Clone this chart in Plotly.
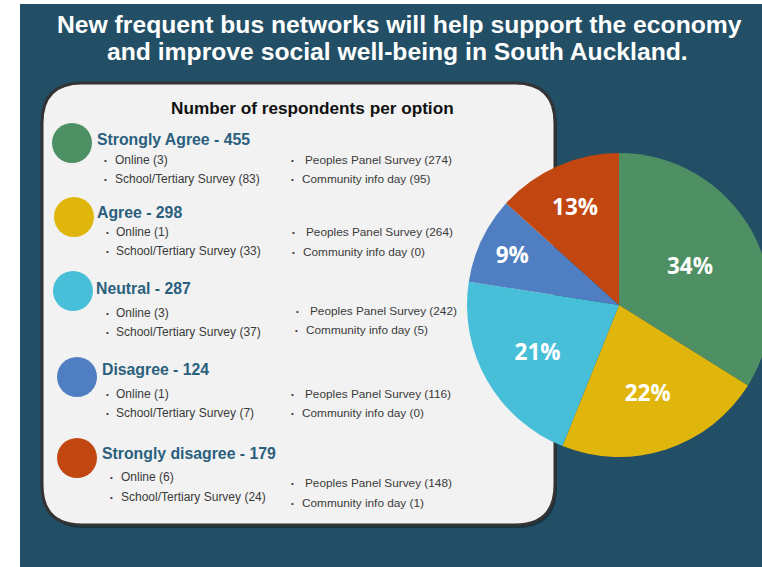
import plotly.graph_objects as go

# ---------------- data ----------------
categories = ["Strongly Agree", "Agree", "Neutral", "Disagree", "Strongly disagree"]
totals = [455, 298, 287, 124, 179]
online = [3, 1, 3, 1, 6]
school = [83, 33, 37, 7, 24]
peoples_panel = [274, 264, 242, 116, 148]
community_day = [95, 0, 5, 0, 1]
colors = ["#4e8f64", "#e0b60c", "#48bfd8", "#4f7fc2", "#c1460f"]

title_lines = ["New frequent bus networks will help support the economy",
               "and improve social well-being in South Auckland."]
panel_title = "Number of respondents per option"

# ---------------- layout helpers ----------------
# figure is a little wider than the window; the overflow (the pie's cut-off
# right edge) is clipped by the page, as in the reference
W, H = 772, 567

def px(x):
    return x / W

def py(y):
    return 1 - y / H

BG = "#224f66"
HEAD = "#2a5f7e"
TXT = "#3a3a3a"

fig = go.Figure()

fig.add_trace(go.Pie(
    labels=categories,
    values=totals,
    sort=False,
    direction="clockwise",
    rotation=0,
    marker=dict(colors=colors, line=dict(width=0)),
    textinfo="percent",
    texttemplate="%{percent:.0%}",
    textposition="inside",
    insidetextorientation="horizontal",
    textfont=dict(family="Open Sans", size=22.5, color="white", weight="bold"),
    showlegend=False,
    hoverinfo="label+value+percent",
    domain=dict(x=[px(467), px(771)], y=[py(457), py(153)]),
))

shapes = []
# white strip on the left / top, dark background elsewhere
shapes.append(dict(type="rect", xref="paper", yref="paper", layer="below",
                   x0=px(20), x1=1.0, y0=0, y1=py(4),
                   fillcolor=BG, line=dict(width=0)))

# rounded panel
def rounded(x0, y0, x1, y1, r):
    pts = [
        f"M {px(x0 + r)},{py(y0)}",
        f"L {px(x1 - r)},{py(y0)}",
        f"Q {px(x1)},{py(y0)} {px(x1)},{py(y0 + r)}",
        f"L {px(x1)},{py(y1 - r)}",
        f"Q {px(x1)},{py(y1)} {px(x1 - r)},{py(y1)}",
        f"L {px(x0 + r)},{py(y1)}",
        f"Q {px(x0)},{py(y1)} {px(x0)},{py(y1 - r)}",
        f"L {px(x0)},{py(y0 + r)}",
        f"Q {px(x0)},{py(y0)} {px(x0 + r)},{py(y0)}",
        "Z",
    ]
    return " ".join(pts)

# shadow
shapes.append(dict(type="path", xref="paper", yref="paper", layer="below",
                   path=rounded(44, 86, 557, 528, 40),
                   fillcolor="rgba(0,0,0,0.35)", line=dict(width=0)))
shapes.append(dict(type="path", xref="paper", yref="paper", layer="below",
                   path=rounded(42, 83, 555, 525, 40),
                   fillcolor="#f2f2f2", line=dict(color="#333333", width=3)))

# category circles
circle_pos = [(72, 143), (74, 217), (73, 291), (77, 377), (77, 458)]
for (cx, cy), col in zip(circle_pos, colors):
    shapes.append(dict(type="circle", xref="paper", yref="paper", layer="below",
                       x0=px(cx - 20), x1=px(cx + 20), y0=py(cy + 20), y1=py(cy - 20),
                       fillcolor=col, line=dict(width=0)))

annotations = []
def text(x, y, s, size, color, bold=False, anchor="left", family="Liberation Sans"):
    if anchor == "left":
        x -= 2
    annotations.append(dict(
        x=px(x), y=py(y), xref="paper", yref="paper", text=s, showarrow=False,
        xanchor=anchor, yanchor="middle",
        font=dict(family=family, size=size, color=color, weight="bold" if bold else "normal"),
    ))

# title
text(400, 24, title_lines[0], 24.7, "white", True, "center")
text(397, 51, title_lines[1], 24.7, "white", True, "center")
text(312, 108, panel_title, 17.2, "#111111", True, "center")

header_pos = [(97, 139), (97, 212), (96, 288), (102, 369), (102, 453)]
left_bx = [106, 107, 107, 107, 112]
left_rows = [(160, 179), (232, 251), (313, 332), (394, 413), (477, 497)]
pps_pos = [(292, 160), (293, 232), (297, 311), (292, 394), (292, 483)]
com_pos = [(292, 179), (293, 252), (296, 330), (292, 413), (292, 503)]

def bullet(x, y):
    text(x, y + 0.5, "•", 8, TXT, False, "center")

for i, cat in enumerate(categories):
    hx, hy = header_pos[i]
    text(hx, hy, f"{cat} - {totals[i]}", 15.8, HEAD, True)
    bx = left_bx[i]
    y1, y2 = left_rows[i]
    bullet(bx, y1)
    text(bx + 9, y1, f"Online ({online[i]})", 12, TXT)
    bullet(bx, y2)
    text(bx + 9, y2, f"School/Tertiary Survey ({school[i]})", 12, TXT)
    ppx, ppy = pps_pos[i]
    bullet(ppx, ppy)
    text(ppx + 13, ppy, f"Peoples Panel Survey ({peoples_panel[i]})", 11.8, TXT)
    cpx, cpy = com_pos[i]
    bullet(cpx, cpy)
    text(cpx + 10, cpy, f"Community info day ({community_day[i]})", 11.8, TXT)

fig.update_layout(
    width=W, height=H,
    margin=dict(l=0, r=0, t=0, b=0),
    paper_bgcolor="white",
    plot_bgcolor="white",
    shapes=shapes,
    annotations=annotations,
)

fig.write_html(
    "out.html",
    config={"displayModeBar": False},
    post_script="document.body.style.margin='0';document.body.style.overflow='hidden';",
)
